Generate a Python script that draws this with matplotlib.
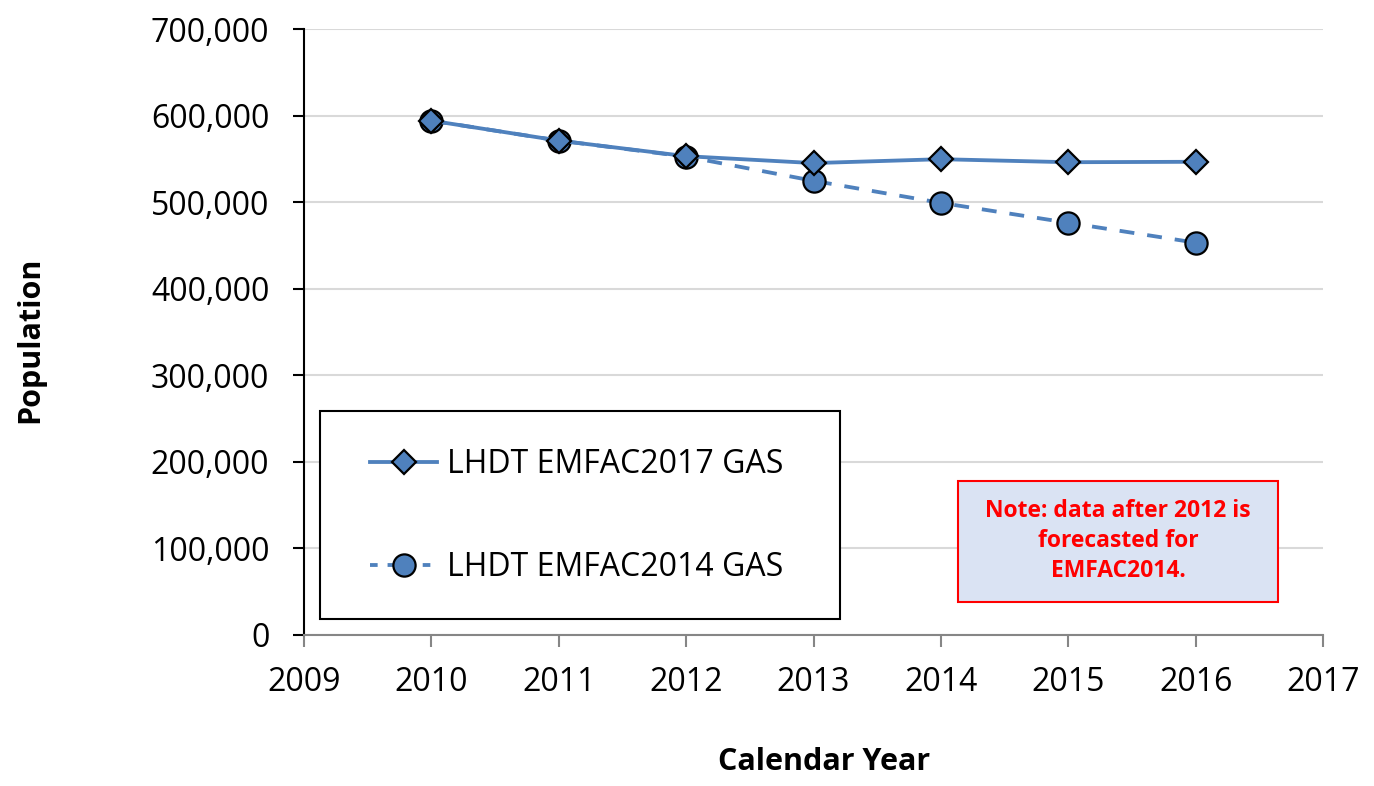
import matplotlib
matplotlib.use("Agg")
import matplotlib.pyplot as plt
from matplotlib.patches import Rectangle
from matplotlib.ticker import FuncFormatter, MultipleLocator

years = [2010, 2011, 2012, 2013, 2014, 2015, 2016]
emfac2017 = [594000, 571000, 553000, 545000, 549500, 546000, 546500]
emfac2014 = [594000, 571000, 552500, 524500, 499000, 476000, 453000]
labels = ["LHDT EMFAC2017 GAS", "LHDT EMFAC2014 GAS"]
note = "Note: data after 2012 is\nforecasted for\nEMFAC2014."

plt.rcParams['font.family'] = ['Open Sans', 'DejaVu Sans']
blue = "#4F81BD"

fig = plt.figure(figsize=(13.74, 7.86), dpi=100)
ax = fig.add_axes([0.2213, 0.1927, 0.9629 - 0.2213, 0.9631 - 0.1927])

ax.plot(years, emfac2014, color=blue, lw=2.75, dashes=(3.9, 3.4),
        marker='o', ms=16, mfc=blue, mec='black', mew=1.6, label=labels[1], zorder=3)
ax.plot(years, emfac2017, color=blue, lw=2.75, ls='-',
        marker='D', ms=12.5, mfc=blue, mec='black', mew=1.6, label=labels[0], zorder=4)

ax.set_xlim(2009, 2017)
ax.set_ylim(0, 700000)
ax.xaxis.set_major_locator(MultipleLocator(1))
ax.yaxis.set_major_locator(MultipleLocator(100000))
ax.yaxis.set_major_formatter(FuncFormatter(lambda v, p: f"{int(v):,}"))
ax.grid(axis='y', color='#D9D9D9', lw=1.5)
ax.set_axisbelow(True)
for s in ['top', 'right']:
    ax.spines[s].set_visible(False)
ax.spines['left'].set_color('black')
ax.spines['left'].set_linewidth(1.5)
ax.spines['bottom'].set_color('#868686')
ax.spines['bottom'].set_linewidth(1.5)
ax.tick_params(axis='y', direction='out', length=8, width=1.5, color='black',
               labelsize=23, pad=17)
ax.tick_params(axis='x', direction='out', length=8.5, width=1.5, color='#868686',
               labelsize=23, pad=14)

W, H = 1374, 786
def fx(px):
    return px / W
def fy(py):
    return 1 - py / H

fig.text(fx(30), fy(340), "Population", fontsize=22, fontweight='bold',
         rotation=90, ha='center', va='center')
fig.text(fx(824), fy(762), "Calendar Year", fontsize=22, fontweight='bold',
         ha='center', va='center')

# legend box
fig.patches.append(Rectangle((fx(320), fy(619)), fx(840) - fx(320), fy(411) - fy(619),
                             transform=fig.transFigure, facecolor='white',
                             edgecolor='black', lw=1.5, zorder=5))
h1, = ax.plot([], [], color=blue, lw=2.75, marker='D', ms=12.5, mfc=blue, mec='black', mew=1.6)
h2, = ax.plot([], [], color=blue, lw=2.75, dashes=(2.0, 2.6), marker='o', ms=16,
              mfc=blue, mec='black', mew=1.6)
leg = fig.legend([h1, h2], labels, loc='center left',
                 bbox_to_anchor=(fx(370), fy(516)), frameon=False, fontsize=23,
                 handlelength=2.1, handletextpad=0.3, labelspacing=2.2, borderpad=0,
                 borderaxespad=0)
leg.set_zorder(6)

# note box
fig.patches.append(Rectangle((fx(958), fy(602)), fx(1278) - fx(958), fy(481) - fy(602),
                             transform=fig.transFigure, facecolor='#DAE3F3',
                             edgecolor='#FF0000', lw=1.5, zorder=5))
fig.text(fx(1118), fy(541), note, color='#FF0000', fontsize=16.5, fontweight='bold',
         ha='center', va='center', linespacing=1.35, zorder=6)

fig.savefig("out.png", dpi=100)
